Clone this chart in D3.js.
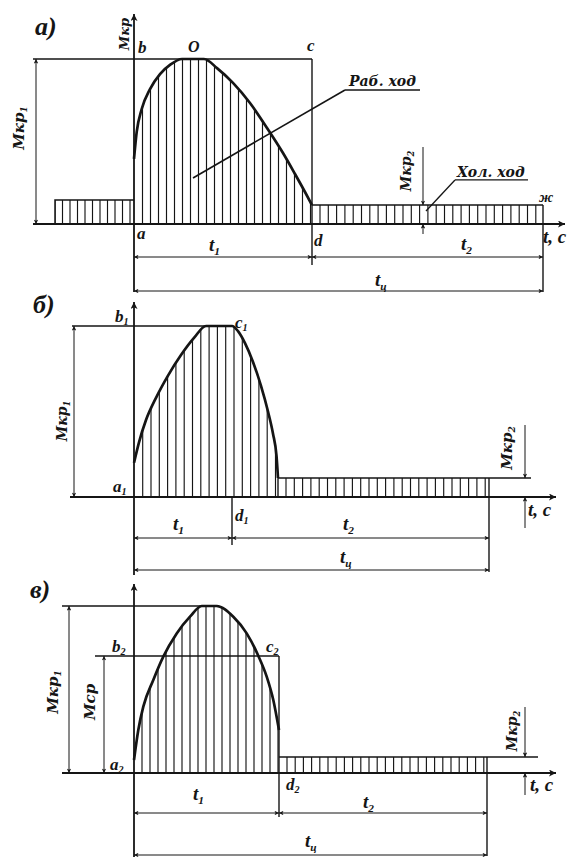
<!DOCTYPE html>
<html>
<head>
<meta charset="utf-8">
<script src="https://cdn.jsdelivr.net/npm/d3@7"></script>
<style>
  html, body { margin: 0; padding: 0; background: #fff; }
  svg text { font-family: "Liberation Serif", "Times New Roman", serif; font-weight: bold; font-style: italic; fill: #151515; }
  svg text.wide { font-family: "DejaVu Serif", serif; }
</style>
</head>
<body>
<svg id="chart" width="578" height="857"></svg>
<script>
// Torque diagrams of a machine cycle: work stroke (Раб. ход) and idle stroke (Хол. ход)
const panelLabels = ["а)", "б)", "в)"];

// Work-stroke torque curves: [time, torque as % of Мкр1]
const workA = [[0, 39.4], [0.27, 55.8], [0.77, 69.7], [1.6, 81.8], [2.6, 90.9], [3.6, 96.4], [4.8, 100], [7.0, 100],
               [8.3, 94.5], [9.9, 85.5], [11.6, 73.3], [13.3, 58.2], [14.9, 43.0], [16.1, 30.3], [17.1, 19.4], [17.8, 11.5]];
const workB = [[0, 20], [0.5, 32], [1.2, 45], [2.2, 58], [3.4, 71], [4.7, 83], [6.0, 93], [7.2, 100],
               [9.8, 100], [10.4, 97], [11.1, 90], [11.9, 79], [12.7, 65], [13.4, 50], [13.9, 37], [14.25, 24], [14.4, 11.1]];
const workC = [[0, 7.8], [0.43, 25.7], [0.93, 39.7], [1.93, 55.7], [2.93, 69.7], [4.27, 83.6], [5.6, 93.6], [6.77, 100],
               [8.27, 100], [9.93, 93.6], [11.27, 83.6], [12.43, 70.2], [13.27, 57.7], [13.93, 43.7], [14.5, 25.7]];

const t1Values = [17.8, 9.8, 14.5];       // end of work stroke, t1
const cycleValues = [40.9, 35.5, 35.3];   // cycle time, tц
const idleValues = [11.5, 11.1, 9.6];     // idle torque, Мкр2
const preStroke = [-7.9, 14.5];           // panel а: start time and torque before the work stroke
const meanTorque = 70.1;                  // panel в: mean torque Мср

const INK = "#151515";
const svg = d3.select("#chart");
const defs = svg.append("defs");

// common time scale: 10 px per unit, origin on the torque axis
const x = d3.scaleLinear().domain([0, 10]).range([134, 234]);

function marker(id, w, h) {
  defs.append("marker").attr("id", id)
    .attr("viewBox", "0 0 10 10").attr("refX", 10).attr("refY", 5)
    .attr("markerWidth", w).attr("markerHeight", h)
    .attr("markerUnits", "userSpaceOnUse").attr("orient", "auto-start-reverse")
    .append("path").attr("d", "M0,0L10,5L0,10L2.5,5Z").attr("fill", INK);
}
marker("dim", 8, 4.5);
marker("ax", 11, 7);

function seg(g, x1, y1, x2, y2, w = 1, ms = null, me = null) {
  const l = g.append("line")
    .attr("x1", x1).attr("y1", y1).attr("x2", x2).attr("y2", y2)
    .attr("stroke", INK).attr("stroke-width", w);
  if (ms) l.attr("marker-start", `url(#${ms})`);
  if (me) l.attr("marker-end", `url(#${me})`);
  return l;
}

function label(g, main, sub, px, py, size, rot = false, wide = false) {
  const t = g.append("text").attr("font-size", size).classed("wide", wide);
  if (rot) t.attr("transform", `translate(${px},${py}) rotate(-90)`).attr("text-anchor", "middle");
  else t.attr("x", px).attr("y", py);
  t.append("tspan").text(main);
  if (sub) t.append("tspan").attr("font-size", size * 0.6).attr("dy", size * 0.2).text(sub);
  return t;
}

let clipCount = 0;
function hatch(g, d, xFrom, xTo, yTop, yBot, step) {
  const id = "hatch" + (clipCount++);
  defs.append("clipPath").attr("id", id).append("path").attr("d", d);
  g.append("g").attr("clip-path", `url(#${id})`)
    .selectAll("line").data(d3.range(xFrom, xTo + 0.01, step)).join("line")
    .attr("x1", v => v).attr("x2", v => v).attr("y1", yTop).attr("y2", yBot)
    .attr("stroke", INK).attr("stroke-width", 1.15);
}

function rectPath(xa, xb, ya, yb) {
  return `M${xa},${yb}V${ya}H${xb}V${yb}Z`;
}

function workShapes(y, base, work) {
  const area = d3.area().x(d => x(d[0])).y0(base).y1(d => y(d[1])).curve(d3.curveMonotoneX);
  const line = d3.line().x(d => x(d[0])).y(d => y(d[1])).curve(d3.curveMonotoneX);
  return { area: area(work), line: line(work) };
}

// ---------- panel а ----------
(function () {
  const g = svg.append("g");
  const base = 224, top = 59;
  const y = d3.scaleLinear().domain([0, 100]).range([base, top]);
  const t1 = t1Values[0], tc = cycleValues[0], idle = idleValues[0];
  const tEnd = workA[workA.length - 1][0];
  const s = workShapes(y, base, workA);

  // start-up step before the work stroke
  hatch(g, rectPath(x(preStroke[0]), x(0), y(preStroke[1]), base), x(preStroke[0]), x(0), y(preStroke[1]), base, 7.5);
  g.append("path").attr("d", `M${x(preStroke[0])},${base}V${y(preStroke[1])}H${x(0)}`)
    .attr("fill", "none").attr("stroke", INK).attr("stroke-width", 1.5);

  // work stroke
  hatch(g, s.area, x(0) + 8.5, x(tEnd), top, base, 8);
  g.append("path").attr("d", s.line).attr("fill", "none").attr("stroke", INK).attr("stroke-width", 2.7);

  // idle stroke
  hatch(g, rectPath(x(tEnd), x(tc), y(idle), base), x(tEnd) + 8, x(tc), y(idle), base, 8.3);
  seg(g, x(tEnd), y(idle), x(tc), y(idle), 1.6);
  seg(g, x(tc), y(idle), x(tc), 292, 1.4);

  // frame lines
  seg(g, 33, y(100), x(t1), y(100), 1.6);
  seg(g, x(t1), y(100), x(t1), 265, 1.4);
  seg(g, 33, base, 565, base, 1.8, null, "ax");
  seg(g, x(0), 292, x(0), 14, 1.8, null, "ax");

  // Мкр1 dimension
  seg(g, 36, base, 36, y(100), 1, "dim", "dim");
  // time dimensions
  seg(g, x(0), 257, x(t1), 257, 1, "dim", "dim");
  seg(g, x(t1), 257, x(tc), 257, 1, "dim", "dim");
  seg(g, x(0), 291, x(tc), 291, 1, "dim", "dim");

  // Мкр2 marker
  const tm = 28.9;
  seg(g, x(tm), 147, x(tm), y(idle), 1, null, "dim");
  seg(g, x(tm), 234, x(tm), base, 1, null, "dim");

  // leaders
  seg(g, x(21.1), y(81.2), x(28.6), y(81.2), 1.3);
  seg(g, x(21.1), y(81.2), x(5.9), y(27.9), 1.6);
  seg(g, x(32.1), y(26.7), x(39.4), y(26.7), 1.3);
  seg(g, x(32.1), y(26.7), x(29.2), y(7.9), 1.3);

  label(g, panelLabels[0], null, 35, 35, 26);
  label(g, "Мкр", null, 129, 34, 13, true, true);
  label(g, "b", null, 138, 53, 17);
  label(g, "O", null, 188, 52, 16);
  label(g, "c", null, 307, 51, 17);
  label(g, "a", null, 137, 239, 17);
  label(g, "d", null, 314, 246, 17);
  label(g, "t", "1", 209, 251, 19);
  label(g, "t", "2", 461, 250, 19);
  label(g, "t", "ц", 375, 286, 19);
  label(g, "t, c", null, 543, 243, 19);
  label(g, "Мкр", "1", 24, 128, 15, true, true);
  label(g, "Мкр", "2", 411, 171, 14, true, true);
  label(g, "Раб. ход", null, 349, 86, 14, false, true);
  label(g, "Хол. ход", null, 457, 177, 14, false, true);
  label(g, "ж", null, 539, 202, 15);
})();

// ---------- panel б ----------
(function () {
  const g = svg.append("g");
  const base = 497, top = 326;
  const y = d3.scaleLinear().domain([0, 100]).range([base, top]);
  const t1 = t1Values[1], tc = cycleValues[1], idle = idleValues[1];
  const tEnd = workB[workB.length - 1][0];
  const s = workShapes(y, base, workB);

  hatch(g, s.area, x(0) + 8.7, x(tEnd), top, base, 8.3);
  g.append("path").attr("d", s.line).attr("fill", "none").attr("stroke", INK).attr("stroke-width", 2.7);

  hatch(g, rectPath(x(tEnd), x(tc), y(idle), base), x(tEnd) + 8, x(tc), y(idle), base, 8.3);
  seg(g, x(tEnd), y(idle), 531, y(idle), 1.6);
  seg(g, x(tc), y(idle), x(tc), 572, 1.4);
  seg(g, x(tEnd), y(idle), x(tEnd), base, 1.4);

  seg(g, 72, y(100), x(t1), y(100), 1.6);
  seg(g, x(t1), base, x(t1), 545, 1.4);
  seg(g, 70, base, 556, base, 1.8, null, "ax");
  seg(g, x(0), 575, x(0), 302, 1.8, null, "ax");

  seg(g, 74, base, 74, y(100), 1, "dim", "dim");
  seg(g, x(0), 538, x(t1), 538, 1, "dim", "dim");
  seg(g, x(t1), 538, x(tc), 538, 1, "dim", "dim");
  seg(g, x(0), 570, x(tc), 570, 1, "dim", "dim");

  const tm = 39.1;
  seg(g, x(tm), 425, x(tm), y(idle), 1, null, "dim");
  seg(g, x(tm), 528, x(tm), base, 1, null, "dim");

  label(g, panelLabels[1], null, 33, 313, 26);
  label(g, "b", "1", 115, 322, 17);
  label(g, "c", "1", 235, 328, 17);
  label(g, "a", "1", 113, 492, 17);
  label(g, "d", "1", 235, 521, 17);
  label(g, "t", "1", 173, 530, 19);
  label(g, "t", "2", 343, 530, 19);
  label(g, "t", "ц", 340, 563, 19);
  label(g, "t, c", null, 528, 516, 19);
  label(g, "Мкр", "1", 67, 421, 14, true, true);
  label(g, "Мкр", "2", 512, 448, 15, true, true);
})();

// ---------- panel в ----------
(function () {
  const g = svg.append("g");
  const base = 773, top = 606;
  const y = d3.scaleLinear().domain([0, 100]).range([base, top]);
  const t1 = t1Values[2], tc = cycleValues[2], idle = idleValues[2];
  const tEnd = workC[workC.length - 1][0];
  const tPeak = workC.find(d => d[1] === 100)[0];
  const s = workShapes(y, base, workC);

  hatch(g, s.area, x(0) + 8, x(tEnd), top, base, 8);
  g.append("path").attr("d", s.line).attr("fill", "none").attr("stroke", INK).attr("stroke-width", 2.7);

  hatch(g, rectPath(x(tEnd), x(tc), y(idle), base), x(tEnd) + 8, x(tc), y(idle), base, 8.2);
  seg(g, x(tEnd), y(idle), 538, y(idle), 1.6);
  seg(g, x(tc), y(idle), x(tc), 856, 1.4);

  seg(g, 62, y(100), x(tPeak), y(100), 1.6);
  seg(g, 95, y(meanTorque), x(t1), y(meanTorque), 1.6);
  seg(g, x(t1), y(meanTorque), x(t1), 817, 1.4);
  seg(g, 62, base, 556, base, 1.8, null, "ax");
  seg(g, x(0), 857, x(0), 584, 1.8, null, "ax");

  seg(g, 69, base, 69, y(100), 1, "dim", "dim");
  seg(g, 104, base, 104, y(meanTorque), 1, "dim", "dim");
  seg(g, x(0), 813, x(t1), 813, 1, "dim", "dim");
  seg(g, x(t1), 813, x(tc), 813, 1, "dim", "dim");
  seg(g, x(0), 855, x(tc), 855, 1, "dim", "dim");

  const tm = 39.1;
  seg(g, x(tm), 707, x(tm), y(idle), 1, null, "dim");
  seg(g, x(tm), 795, x(tm), base, 1, null, "dim");

  label(g, panelLabels[2], null, 30, 598, 26);
  label(g, "b", "2", 112, 652, 17);
  label(g, "c", "2", 266, 652, 17);
  label(g, "a", "2", 110, 770, 17);
  label(g, "d", "2", 286, 790, 17);
  label(g, "t", "1", 193, 800, 19);
  label(g, "t", "2", 363, 808, 19);
  label(g, "t", "ц", 305, 847, 19);
  label(g, "t, c", null, 530, 791, 19);
  label(g, "Мкр", "1", 58, 692, 15, true, true);
  label(g, "Мср", null, 95, 702, 15, true, true);
  label(g, "Мкр", "2", 517, 731, 14, true, true);
})();
</script>
</body>
</html>
